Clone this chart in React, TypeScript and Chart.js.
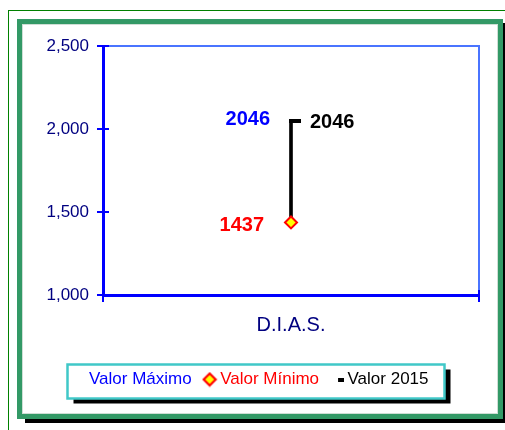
import React, { useEffect, useRef } from 'react';
import { Chart, registerables } from 'chart.js';

Chart.register(...registerables);

// ---- data ----
const categories = ['D.I.A.S.'];
const maxValues = [2046];
const minValues = [1437];
const values2015 = [2046];
const seriesNames = ['Valor Máximo', 'Valor Mínimo', 'Valor 2015'];
const yTickValues = [1000, 1500, 2000, 2500];

const FONT = "'Liberation Sans', Arial, Helvetica, sans-serif";
const BLUE = '#0000ff';
const NAVY = '#000080';
const RED = '#ff0000';

function makeCanvas(w: number, h: number, draw: (g: CanvasRenderingContext2D) => void) {
  const c = document.createElement('canvas');
  c.width = w;
  c.height = h;
  const g = c.getContext('2d');
  if (g) draw(g);
  return c;
}

export default function App() {
  const ref = useRef<HTMLCanvasElement>(null);

  useEffect(() => {
    const canvas = ref.current;
    if (!canvas) return;

    const blank = makeCanvas(1, 1, () => {});
    const legendDiamond = makeCanvas(16, 16, (g) => {
      g.beginPath();
      g.moveTo(8, 2);
      g.lineTo(14, 8);
      g.lineTo(8, 14);
      g.lineTo(2, 8);
      g.closePath();
      g.fillStyle = '#ffff00';
      g.fill();
      g.lineWidth = 2.2;
      g.strokeStyle = RED;
      g.stroke();
    });
    const legendDash = makeCanvas(14, 4, (g) => {
      g.fillStyle = '#000';
      g.fillRect(8, 0, 6, 4);
    });
    const closeTick = makeCanvas(24, 4, (g) => {
      g.fillStyle = '#000';
      g.fillRect(10, 0, 12, 4);
    });

    const labelSpecs = [
      { ds: 1, values: maxValues, color: BLUE, align: 'right' as CanvasTextAlign, dx: -21, dy: -2 },
      { ds: 3, values: values2015, color: '#000000', align: 'left' as CanvasTextAlign, dx: 19, dy: 1 },
      { ds: 2, values: minValues, color: RED, align: 'right' as CanvasTextAlign, dx: -27, dy: 3 },
    ];

    const decor = {
      id: 'decor',
      beforeDraw(chart: any) {
        const { ctx } = chart;
        const lg = chart.legend;
        if (lg && lg.legendHitBoxes && lg.legendHitBoxes.length) {
          const hbs = lg.legendHitBoxes;
          const first = hbs[0];
          const last = hbs[hbs.length - 1];
          const cy = first.top + first.height / 2;
          const left = first.left - 9;
          const right = last.left + last.width + 16;
          const top = cy - 15;
          const bottom = cy + 19;
          ctx.save();
          ctx.fillStyle = '#000';
          ctx.fillRect(left + 6, top + 5, right - left, bottom - top);
          ctx.fillStyle = '#fff';
          ctx.fillRect(left, top, right - left, bottom - top);
          ctx.strokeStyle = '#40c8c8';
          ctx.lineWidth = 2.5;
          ctx.strokeRect(left, top, right - left, bottom - top);
          ctx.restore();
        }
      },
      beforeDatasetsDraw(chart: any) {
        const { ctx, chartArea } = chart;
        const ys = chart.scales.y;
        ctx.save();
        ctx.strokeStyle = '#4a74ff';
        ctx.lineWidth = 2;
        ctx.beginPath();
        ctx.moveTo(chartArea.left, chartArea.top);
        ctx.lineTo(chartArea.right, chartArea.top);
        ctx.lineTo(chartArea.right, chartArea.bottom);
        ctx.stroke();
        ctx.strokeStyle = BLUE;
        ctx.lineWidth = 2;
        ctx.beginPath();
        ys.ticks.forEach((t: any) => {
          const py = Math.round(ys.getPixelForValue(t.value));
          ctx.moveTo(chartArea.left, py);
          ctx.lineTo(chartArea.left + 6, py);
        });
        [chartArea.left, chartArea.right].forEach((px: number) => {
          ctx.moveTo(px, chartArea.bottom);
          ctx.lineTo(px, chartArea.bottom - 5);
        });
        ctx.stroke();
        ctx.restore();
      },
      afterDatasetsDraw(chart: any) {
        const { ctx } = chart;
        ctx.save();
        ctx.font = `bold 20px ${FONT}`;
        ctx.textBaseline = 'middle';
        labelSpecs.forEach((s) => {
          const meta = chart.getDatasetMeta(s.ds);
          meta.data.forEach((pt: any, i: number) => {
            ctx.fillStyle = s.color;
            ctx.textAlign = s.align;
            ctx.fillText(String(s.values[i]), pt.x + s.dx, pt.y + s.dy);
          });
        });
        ctx.restore();
      },
    };

    const chart = new Chart(canvas, {
      type: 'bar',
      data: {
        labels: categories,
        datasets: [
          {
            type: 'bar',
            label: 'range',
            data: minValues.map((m, i) => [m, maxValues[i]]) as any,
            backgroundColor: '#000',
            barThickness: 3,
            order: 10,
          },
          {
            type: 'line',
            label: seriesNames[0],
            data: maxValues,
            showLine: false,
            pointRadius: 0,
            borderColor: BLUE,
            backgroundColor: BLUE,
            order: 1,
          },
          {
            type: 'line',
            label: seriesNames[1],
            data: minValues,
            showLine: false,
            pointStyle: 'rectRot',
            pointRadius: 6,
            pointBorderWidth: 2,
            pointBackgroundColor: '#ffff00',
            pointBorderColor: RED,
            order: 0,
          },
          {
            type: 'line',
            label: seriesNames[2],
            data: values2015,
            showLine: false,
            pointStyle: closeTick as any,
            pointRadius: 6,
            order: 0,
          },
        ] as any,
      },
      options: {
        responsive: false,
        animation: false,
        layout: { padding: { top: 46, left: 0, right: 0, bottom: 32 } },
        plugins: {
          tooltip: { enabled: false },
          title: { display: false },
          legend: {
            position: 'bottom',
            labels: {
              usePointStyle: true,
              boxWidth: 4,
              padding: 16,
              font: { family: FONT, size: 17 },
              generateLabels: () => [
                { text: seriesNames[0], fontColor: BLUE, pointStyle: blank, fillStyle: 'transparent', strokeStyle: 'transparent', lineWidth: 0, hidden: false, datasetIndex: 1 },
                { text: seriesNames[1], fontColor: RED, pointStyle: legendDiamond, fillStyle: 'transparent', strokeStyle: 'transparent', lineWidth: 0, hidden: false, datasetIndex: 2 },
                { text: seriesNames[2], fontColor: '#000', pointStyle: legendDash, fillStyle: 'transparent', strokeStyle: 'transparent', lineWidth: 0, hidden: false, datasetIndex: 3 },
              ] as any,
            },
          },
        },
        scales: {
          x: {
            type: 'category',
            offset: true,
            grid: { offset: true, drawOnChartArea: false, color: BLUE, lineWidth: 2, tickLength: 7 },
            border: { display: true, color: BLUE, width: 3 },
            ticks: { color: NAVY, font: { family: FONT, size: 20 }, padding: 11 },
            afterFit: (s: any) => { s.height = 60; },
          },
          y: {
            type: 'linear',
            min: 1000,
            max: 2500,
            afterBuildTicks: (s: any) => { s.ticks = yTickValues.map((v) => ({ value: v })); },
            ticks: {
              color: NAVY,
              font: { family: FONT, size: 17 },
              padding: 8,
              callback: (v: any) => Number(v).toLocaleString('en-US'),
            },
            grid: { drawOnChartArea: false, color: BLUE, lineWidth: 2, tickLength: 6 },
            border: { display: true, color: BLUE, width: 3 },
            afterFit: (s: any) => { s.width = 103; },
          },
          yR: {
            position: 'right',
            display: true,
            ticks: { display: false },
            grid: { display: false },
            border: { display: false },
            afterFit: (s: any) => { s.width = 26; },
          },
        } as any,
      },
      plugins: [decor],
    });

    return () => chart.destroy();
  }, []);

  return (
    <div style={{ position: 'fixed', left: 0, top: 0, width: 505, height: 430, overflow: 'hidden', background: '#fff' }}>
      <div style={{ position: 'absolute', left: 8, top: 10, width: 600, height: 600, border: '1px solid #008000' }} />
      <div
        style={{
          position: 'absolute',
          left: 17,
          top: 19,
          width: 486,
          height: 400,
          boxSizing: 'border-box',
          border: '5px solid #339966',
          boxShadow: '8px 4px 0 #000, inset 0 0 0 1px #cfded5',
          background: '#fff',
        }}
      />
      <canvas ref={ref} width={505} height={430} style={{ position: 'absolute', left: 0, top: 0, display: 'block' }} />
    </div>
  );
}
